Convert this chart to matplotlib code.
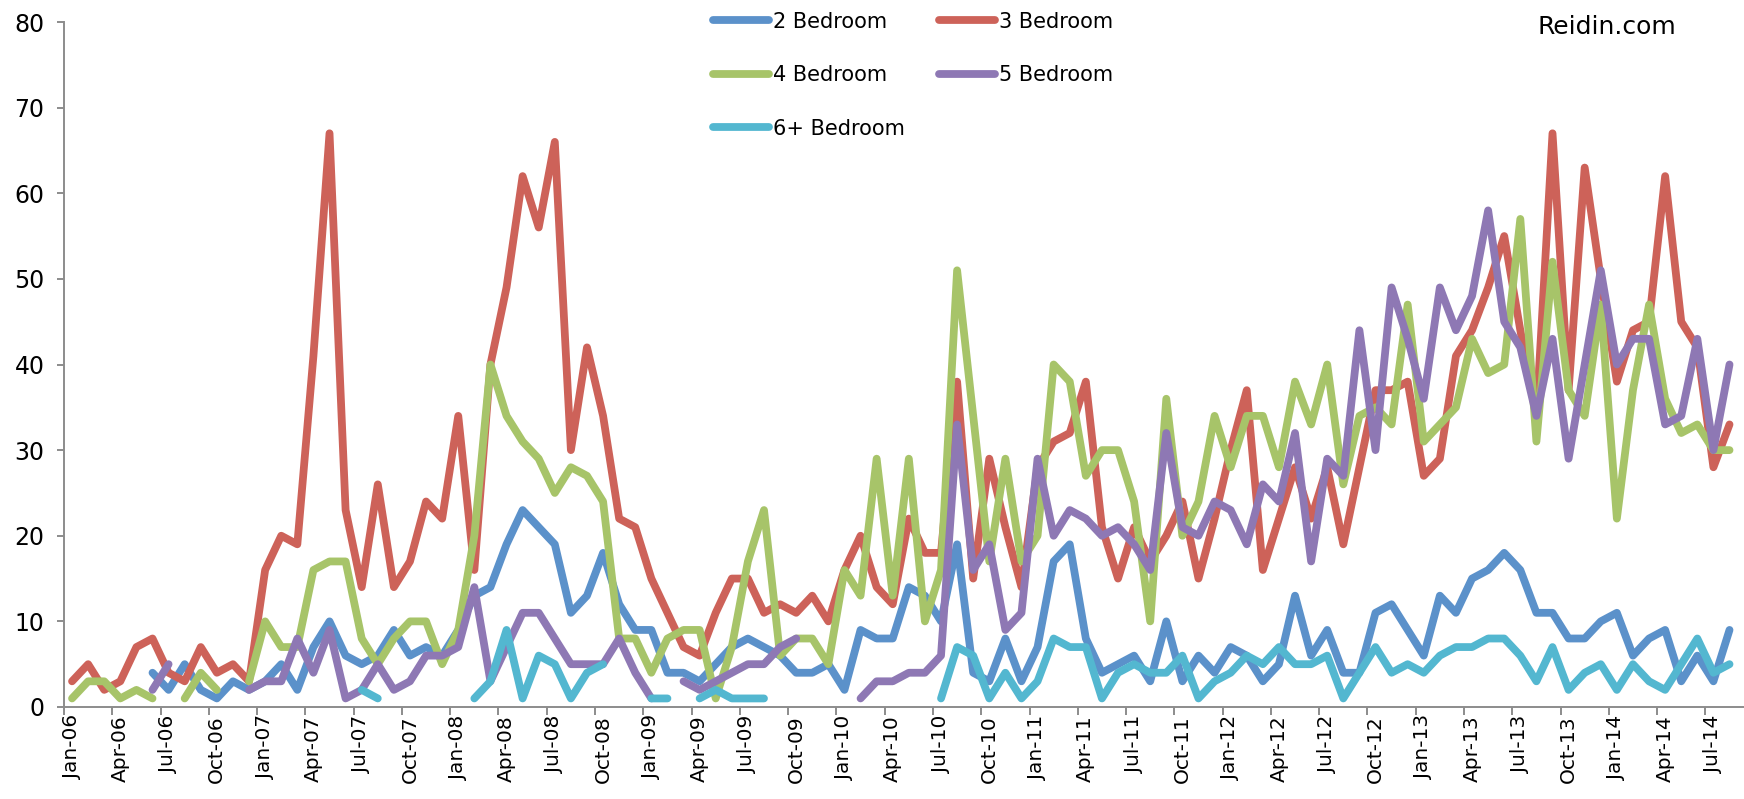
import numpy as np
import matplotlib
matplotlib.use('Agg')
import matplotlib.pyplot as plt

N = np.nan

# monthly transaction counts, Jan-06 .. Aug-14
bed2 = [N, N, N, N, N, 4, 2, 5, 2, 1, 3, 2,
        3, 5, 2, 7, 10, 6, 5, 6, 9, 6, 7, 6,
        9, 13, 14, 19, 23, 21, 19, 11, 13, 18, 12, 9,
        9, 4, 4, 3, 5, 7, 8, 7, 6, 4, 4, 5,
        2, 9, 8, 8, 14, 13, 10, 19, 4, 3, 8, 3,
        7, 17, 19, 8, 4, 5, 6, 3, 10, 3, 6, 4,
        7, 6, 3, 5, 13, 6, 9, 4, 4, 11, 12, 9,
        6, 13, 11, 15, 16, 18, 16, 11, 11, 8, 8, 10,
        11, 6, 8, 9, 3, 6, 3, 9]

bed3 = [3, 5, 2, 3, 7, 8, 4, 3, 7, 4, 5, 3,
        16, 20, 19, 41, 67, 23, 14, 26, 14, 17, 24, 22,
        34, 16, 40, 49, 62, 56, 66, 30, 42, 34, 22, 21,
        15, 11, 7, 6, 11, 15, 15, 11, 12, 11, 13, 10,
        16, 20, 14, 12, 22, 18, 18, 38, 15, 29, 21, 14,
        28, 31, 32, 38, 21, 15, 21, 17, 20, 24, 15, 22,
        30, 37, 16, 22, 28, 22, 28, 19, 28, 37, 37, 38,
        27, 29, 41, 44, 49, 55, 44, 34, 67, 37, 63, 50,
        38, 44, 45, 62, 45, 42, 28, 33]

bed4 = [1, 3, 3, 1, 2, 1, N, 1, 4, 2, N, 3,
        10, 7, 7, 16, 17, 17, 8, 5, 8, 10, 10, 5,
        9, 20, 40, 34, 31, 29, 25, 28, 27, 24, 8, 8,
        4, 8, 9, 9, 1, 7, 17, 23, 6, 8, 8, 5,
        16, 13, 29, 13, 29, 10, 16, 51, 34, 17, 29, 17,
        20, 40, 38, 27, 30, 30, 24, 10, 36, 20, 24, 34,
        28, 34, 34, 28, 38, 33, 40, 26, 34, 35, 33, 47,
        31, 33, 35, 43, 39, 40, 57, 31, 52, 37, 34, 47,
        22, 37, 47, 36, 32, 33, 30, 30]

bed5 = [N, N, N, N, N, 2, 5, N, N, N, N, 2,
        3, 3, 8, 4, 9, 1, 2, 5, 2, 3, 6, 6,
        7, 14, 3, 7, 11, 11, 8, 5, 5, 5, 8, 4,
        1, N, 3, 2, 3, 4, 5, 5, 7, 8, N, N,
        N, 1, 3, 3, 4, 4, 6, 33, 16, 19, 9, 11,
        29, 20, 23, 22, 20, 21, 19, 16, 32, 21, 20, 24,
        23, 19, 26, 24, 32, 17, 29, 27, 44, 30, 49, 43,
        36, 49, 44, 48, 58, 45, 42, 34, 43, 29, 40, 51,
        40, 43, 43, 33, 34, 43, 30, 40]

bed6 = [N, N, N, N, N, N, N, N, N, N, N, N,
        N, N, N, N, N, N, 2, 1, N, N, N, N,
        N, 1, 3, 9, 1, 6, 5, 1, 4, 5, N, N,
        1, 1, N, 1, 2, 1, 1, 1, N, N, N, N,
        N, N, N, N, N, N, 1, 7, 6, 1, 4, 1,
        3, 8, 7, 7, 1, 4, 5, 4, 4, 6, 1, 3,
        4, 6, 5, 7, 5, 5, 6, 1, 4, 7, 4, 5,
        4, 6, 7, 7, 8, 8, 6, 3, 7, 2, 4, 5,
        2, 5, 3, 2, 5, 8, 4, 5]

tick_labels = ['Jan-06', 'Apr-06', 'Jul-06', 'Oct-06',
               'Jan-07', 'Apr-07', 'Jul-07', 'Oct-07',
               'Jan-08', 'Apr-08', 'Jul-08', 'Oct-08',
               'Jan-09', 'Apr-09', 'Jul-09', 'Oct-09',
               'Jan-10', 'Apr-10', 'Jul-10', 'Oct-10',
               'Jan-11', 'Apr-11', 'Jul-11', 'Oct-11',
               'Jan-12', 'Apr-12', 'Jul-12', 'Oct-12',
               'Jan-13', 'Apr-13', 'Jul-13', 'Oct-13',
               'Jan-14', 'Apr-14', 'Jul-14']

series = [(bed2, '2 Bedroom', '#5B91CA'),
          (bed3, '3 Bedroom', '#CD6259'),
          (bed4, '4 Bedroom', '#A7C469'),
          (bed5, '5 Bedroom', '#8E78B4'),
          (bed6, '6+ Bedroom', '#53B7D0')]

W, H = 1744, 799
fig = plt.figure(figsize=(W / 100, H / 100), dpi=100)
ax = fig.add_axes([64 / W, 1 - 707 / H, 1 - 64 / W, (707 - 22) / H])

x = np.arange(len(bed3))
lines = {}
for vals, label, color in series:
    ln, = ax.plot(x, np.array(vals, dtype=float), color=color, lw=5.6,
                  solid_capstyle='round', solid_joinstyle='round',
                  label=label, clip_on=False)
    lines[label] = ln

ax.set_xlim(-0.5, 103.9)
ax.set_ylim(0, 80)

axis_grey = '#8C8C8C'
for side in ['top', 'right']:
    ax.spines[side].set_visible(False)
for side in ['left', 'bottom']:
    ax.spines[side].set_color(axis_grey)
    ax.spines[side].set_linewidth(1.4)

ax.set_yticks(range(0, 81, 10))
ax.tick_params(axis='y', length=5, width=1.4, color=axis_grey, pad=9,
               labelsize=17)

# tick marks sit on month boundaries, labels under the months
ax.set_xticks(np.arange(0, 104, 3) - 0.5)
ax.set_xticklabels([])
ax.set_xticks(np.arange(0, 103, 3), minor=True)
ax.set_xticklabels(tick_labels, minor=True, rotation=90)
ax.tick_params(axis='x', which='major', length=6, width=1.4, color=axis_grey)
ax.tick_params(axis='x', which='minor', length=0, pad=6, labelsize=14.5)

order = ['2 Bedroom', '4 Bedroom', '6+ Bedroom', '3 Bedroom', '5 Bedroom']
fig.legend([lines[k] for k in order], order, ncol=2, loc='upper left',
           bbox_to_anchor=(713 / W, 1 - 11.5 / H), frameon=False, fontsize=15,
           handlelength=2.7, handletextpad=0.2, columnspacing=1.6,
           labelspacing=1.61, borderpad=0, borderaxespad=0)

fig.text(1607 / W, 1 - 27 / H, 'Reidin.com', ha='center', va='center',
         fontsize=18)

plt.savefig('out.png', dpi=100)
